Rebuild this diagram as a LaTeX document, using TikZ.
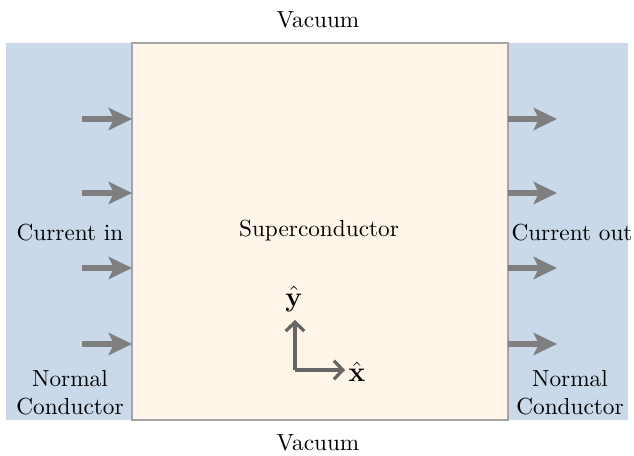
\documentclass[tikz,border=0pt]{standalone}
\usetikzlibrary{arrows.meta,positioning}
\definecolor{ncblue}{HTML}{C9D9EA}
\definecolor{sccream}{HTML}{FFF5E8}
\definecolor{scborder}{HTML}{A5A5A5}
\definecolor{flowgray}{HTML}{7F7F7F}
\definecolor{axisgray}{HTML}{666666}
\begin{document}
\begin{tikzpicture}[x=0.43pt,y=-0.43pt,
  region/.style={draw=none,fill=ncblue,inner sep=0pt,outer sep=0pt},
  flow/.style={draw=flowgray,line width=2.9pt,-{Stealth[length=10pt,width=9.5pt,inset=2.2pt]}},
  axis/.style={draw=axisgray,line width=1.4pt,-{Straight Barb[length=3.8pt,width=8pt,line width=1.4pt]}},
  lbl/.style={inner sep=1pt,align=center}]
\useasboundingbox (0,0) rectangle (634,456);
\fill[region] (6,43) rectangle (132,420);
\fill[region] (508,43) rectangle (628,420);
\filldraw[fill=sccream,draw=scborder,line width=0.8pt] (132,43) rectangle (508,420);
\coordinate (scW) at (132,0);
\coordinate (scE) at (508,0);
\foreach \yy [count=\i] in {119,193,268,344}{
  \coordinate (ls\i) at (82,\yy);
  \coordinate (rs\i) at (557,\yy);
  \draw[flow] (ls\i) -- (scW |- ls\i);
  \draw[flow] (scE |- rs\i) -- (rs\i);
}
\node[lbl] (vt) at (318,20) {Vacuum};
\node[lbl] (vb) at (318,443) {Vacuum};
\node[lbl] (sc) at (319,231) {Superconductor};
\node[lbl] (cin) at (70,233) {Current in};
\node[lbl] (cout) at (572,233) {Current out};
\node[lbl] (ncl) at (70,393) {Normal\\Conductor};
\node[lbl] (ncr) at (570,393) {Normal\\Conductor};
\coordinate (o) at (295,370);
\coordinate (yend) at (295,320);
\coordinate (xend) at (345,370);
\draw[axis] (o) -- (yend);
\draw[axis] (o) -- (xend);
\node[lbl] (yl) at (294,299) {\large$\hat{\mathbf{y}}$};
\node[lbl] (xl) at (357,372) {\large$\hat{\mathbf{x}}$};
\end{tikzpicture}
\end{document}
